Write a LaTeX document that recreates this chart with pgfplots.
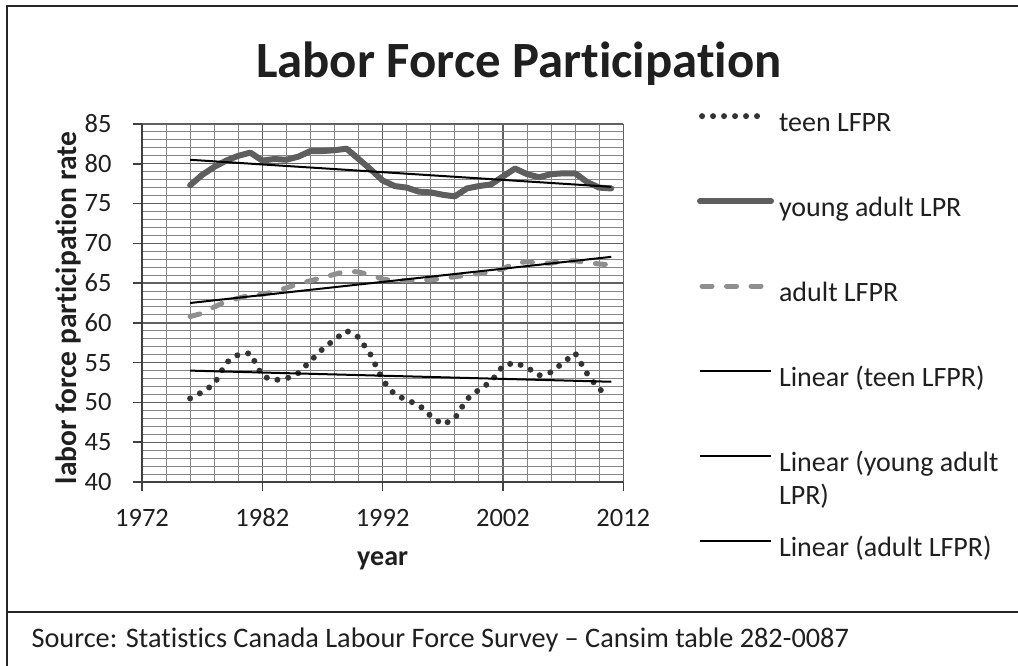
\documentclass[border=0pt]{standalone}
\usepackage{fontspec}
\setmainfont{Carlito}[Ligatures={TeX,NoCommon}]
\usepackage{pgfplots}
\pgfplotsset{compat=1.18}
\usepackage{pgfplotstable}

\definecolor{gridminor}{gray}{0.52}
\definecolor{gridmajor}{gray}{0.38}
\definecolor{teenc}{gray}{0.20}
\definecolor{youngc}{gray}{0.37}
\definecolor{adultc}{gray}{0.56}
\definecolor{txt}{gray}{0.12}

\pgfplotsset{
  longline/.style={legend image code/.code={\draw[##1] (0pt,8pt) -- (71pt,8pt);}},
  shortline/.style={legend image code/.code={\draw[##1] (2pt,8pt) -- (59pt,8pt);}},
  dashline/.style={legend image code/.code={\draw[##1] (2pt,8pt) -- (61pt,8pt);}},
}

\pgfplotstableread{
year teen young adult
1976 50.5 77.3 60.8
1977 51.3 78.6 61.2
1978 52.3 79.6 62.0
1979 55.0 80.4 62.7
1980 56.0 81.0 63.1
1981 56.2 81.4 63.5
1982 53.3 80.4 63.6
1983 52.8 80.6 63.9
1984 53.0 80.5 64.4
1985 53.7 80.9 64.9
1986 55.2 81.6 65.3
1987 56.7 81.6 65.7
1988 57.9 81.7 66.1
1989 59.0 81.9 66.5
1990 58.2 80.6 66.4
1991 56.0 79.3 66.0
1992 52.8 77.9 65.5
1993 51.0 77.2 65.3
1994 50.3 77.0 65.3
1995 49.7 76.5 65.4
1996 48.3 76.4 65.4
1997 47.2 76.1 65.6
1998 48.0 75.9 65.8
1999 50.4 76.9 66.0
2000 51.6 77.2 66.2
2001 52.6 77.4 66.4
2002 54.6 78.4 66.8
2003 55.0 79.4 67.5
2004 54.4 78.7 67.7
2005 53.4 78.3 67.5
2006 53.8 78.7 67.5
2007 55.0 78.8 67.8
2008 56.2 78.8 67.8
2009 53.6 77.7 67.6
2010 51.6 77.0 67.4
2011 51.2 76.9 67.3
}\lfpr

\pgfplotstableread{
year teen young adult
1976 54.0 80.5 62.5
2011 52.6 77.1 68.3
}\trend

\begin{document}
\begin{tikzpicture}[x=1pt,y=1pt]
\useasboundingbox (0,0) rectangle (1018,666);
\draw[line width=2pt, black!85] (1018,660) -- (7,660) -- (7,0);
\draw[line width=2pt, black!85] (7,54) -- (1018,54);
\node[anchor=base, font=\fontsize{50.8}{60}\selectfont\bfseries, text=txt] at (519,588) {Labor Force Participation};
\node[anchor=base west, font=\fontsize{28.3}{33}\selectfont, text=txt] at (28,18) {Source: Statistics Canada Labour Force Survey – Cansim table 282-0087};

\begin{axis}[
  at={(142pt,184pt)}, anchor=south west,
  scale only axis, width=481.3pt, height=358pt,
  xmin=1972, xmax=2012, ymin=40, ymax=85,
  xtick={1972,1982,...,2012}, ytick={40,45,...,85},
  minor x tick num=4, minor y tick num=4,
  grid=both,
  minor grid style={gridminor, line width=1pt},
  major grid style={gridmajor, line width=1.4pt},
  axis x line*=bottom, axis y line*=left,
  axis line style={black!75, line width=1.6pt},
  tick align=outside,
  major tick length=9pt, minor tick length=0pt,
  every tick/.style={black!75, line width=1.6pt},
  /pgf/number format/1000 sep={},
  /pgf/number format/assume math mode=true,
  tick label style={font=\fontsize{26.5}{30}\selectfont, text=txt},
  yticklabel style={xshift=-18pt},
  xticklabel style={yshift=-15pt, text height=17pt, text depth=0pt},
  xlabel={year}, ylabel={labor force participation rate},
  every axis x label/.style={at={(axis description cs:0.5,-0.2346)}, anchor=base,
    font=\fontsize{28}{33}\selectfont\bfseries, text=txt},
  every axis y label/.style={at={(axis description cs:-0.1371,0.486)}, anchor=base, rotate=90,
    font=\fontsize{29.5}{33}\selectfont\bfseries, text=txt},
  legend style={draw=none, fill=none, at={(1.1532,1.0360)}, anchor=north west,
    inner sep=0pt, outer sep=0pt, row sep=59pt, column sep=5pt,
    font=\fontsize{28}{33}\selectfont, text=txt,
    nodes={inner sep=0pt, text height=20pt, text depth=6pt}},
  legend cell align=left,
  longline,
]
\addplot[teenc, line width=6pt, line cap=round, dash pattern=on 0pt off 11pt, shortline] table[x=year, y=teen] {\lfpr};
\addlegendentry{teen LFPR}
\addplot[youngc, line width=6pt, line cap=round, line join=round] table[x=year, y=young] {\lfpr};
\addlegendentry{young adult LPR}
\addplot[adultc, line width=5pt, line cap=round, line join=round, dash pattern=on 10pt off 14.5pt, dashline] table[x=year, y=adult] {\lfpr};
\addlegendentry{adult LFPR}
\addplot[black, line width=2pt] table[x=year, y=teen] {\trend};
\addlegendentry{Linear (teen LFPR)}
\addplot[black, line width=2pt] table[x=year, y=young] {\trend};
\addlegendentry{\parbox[t]{250pt}{Linear (young adult\\LPR)}}
\addplot[black, line width=2pt] table[x=year, y=adult] {\trend};
\addlegendentry{Linear (adult LFPR)}
\end{axis}
\end{tikzpicture}
\end{document}
